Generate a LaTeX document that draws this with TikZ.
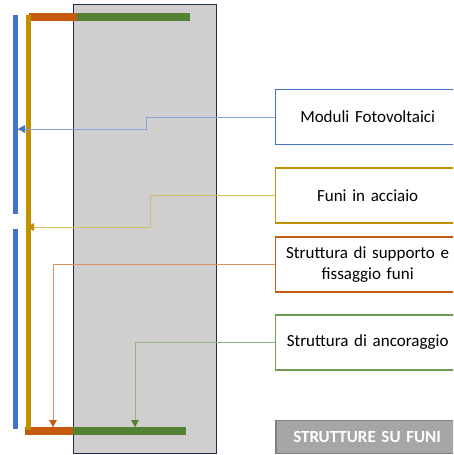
\documentclass[tikz,border=0pt]{standalone}
\usepackage{fontspec}
\setmainfont[WordSpace=0.7]{Carlito}
\usepackage{tikz}
\usetikzlibrary{arrows.meta}
\usetikzlibrary{positioning}

\definecolor{modblue}{HTML}{4472C4}
\definecolor{funegold}{HTML}{BF9000}
\definecolor{supporange}{HTML}{C55A11}
\definecolor{ancgreen}{HTML}{548235}
\definecolor{ancline}{HTML}{6E9A52}
\definecolor{pylongray}{HTML}{D0CECE}
\definecolor{pylonedge}{HTML}{1F3050}

\tikzstyle{bar}=[line width=8pt]
\tikzstyle{rope}=[line width=4.5pt]
\tikzstyle{lbox}=[draw,line width=1.3pt,fill=white,anchor=west,
                minimum width=184pt,minimum height=55pt,text width=176pt,
                align=center,font=\fontsize{17}{21}\selectfont]
\tikzstyle{lead}=[line width=1pt]

\begin{document}
\begin{tikzpicture}[x=1pt,y=-1pt]
    \useasboundingbox (0,0) rectangle (453,455);
    \clip (0,0) rectangle (453,455);

    % pylon
    \draw[fill=pylongray,draw=pylonedge,line width=1.2pt] (73.3,4.7) rectangle (216.7,453.3);

    % bars at top and bottom
    \draw[bar,supporange] (29,17) -- (77,17);
    \draw[bar,ancgreen] (77,17) -- (190,17);
    \draw[bar,supporange] (25,431) -- (73.3,431);
    \draw[bar,ancgreen] (73.3,431) -- (186,431);

    % ropes and modules
    \draw[rope,funegold] (28.3,14.7) -- (28.3,430);
    \draw[rope,modblue] (15.7,14.7) -- (15.7,214);
    \draw[rope,modblue] (15.7,229) -- (15.7,429);

    \coordinate (modtip) at (18,129);
    \coordinate (funtip) at (27,227);
    \coordinate (suptip) at (53,427);
    \coordinate (anctip) at (135,427);

    % labels
    \node[lbox,draw=modblue] (mod) at (275,117) {Moduli Fotovoltaici};
    \node[lbox,draw=funegold] (fun) at (275,195.5) {Funi in acciaio};
    \node[lbox,draw=supporange] (sup) at (275,264.5) {Struttura di supporto e\\fissaggio funi};
    \node[lbox,draw=ancline] (anc) at (275,342.5) {Struttura di ancoraggio};
    \node[lbox,draw=black!50,fill=black!35,text=white,line width=1.5pt,
          minimum width=176.7pt,minimum height=32.6pt,font=\fontsize{17}{21}\selectfont\bfseries]
          (sys) at (275,437) {STRUTTURE SU FUNI};

    % leaders
    \draw[lead,draw=modblue!65] (mod.west) -- (146,117) |- (modtip);
    \fill[modblue] (modtip) -- ++(7,-4) -- ++(0,8) -- cycle;
    \draw[lead,draw=funegold!60] (fun.west) -- (150,195.5) |- (funtip);
    \fill[funegold] (funtip) -- ++(7,-4) -- ++(0,8) -- cycle;
    \draw[lead,draw=supporange!65] (sup.west) -| (suptip);
    \fill[supporange] (suptip) -- ++(-4,-7) -- ++(8,0) -- cycle;
    \draw[lead,draw=ancline!75] (anc.west) -| (anctip);
    \fill[ancgreen] (anctip) -- ++(-4,-7) -- ++(8,0) -- cycle;
\end{tikzpicture}
\end{document}
